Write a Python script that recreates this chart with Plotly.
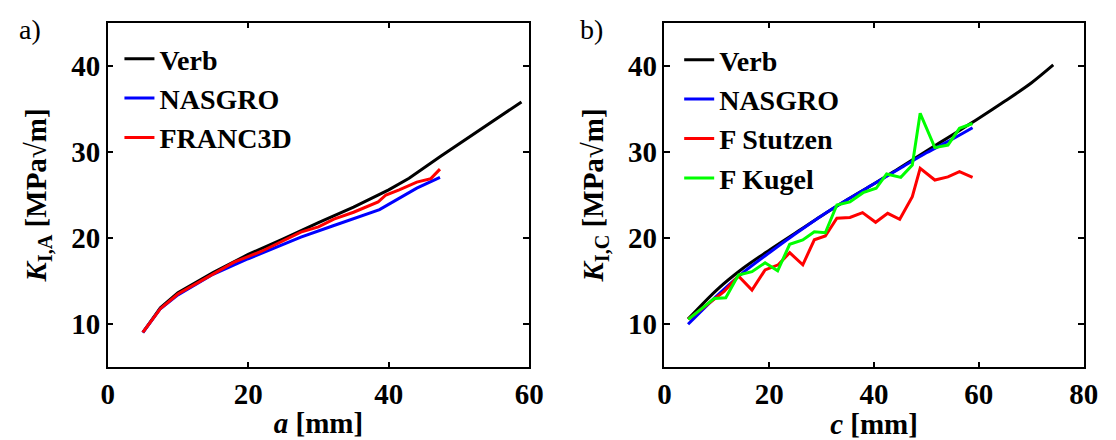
import plotly.graph_objects as go

# ---- panel a) ----
a_verb_x = [5.0, 7.5, 10.0, 15.0, 20.0, 25.0, 30.0, 35.0, 40.0, 42.9, 47.4, 58.9]
a_verb_y = [9.04, 11.9, 13.66, 16.0, 18.1, 19.9, 21.8, 23.6, 25.6, 26.94, 29.5, 35.8]
a_nas_x = [5.0, 7.5, 10.0, 15.0, 20.0, 25.0, 27.5, 32.0, 38.7, 44.0, 47.3]
a_nas_y = [9.04, 11.8, 13.4, 15.8, 17.6, 19.3, 20.1, 21.4, 23.3, 25.8, 27.05]
a_fr_x = [5.0, 7.5, 10.0, 15.0, 18.0, 22.0, 25.0, 27.5, 30.0, 32.2, 35.0, 36.8, 38.5, 39.6, 41.5, 44.0, 46.0, 47.3]
a_fr_y = [9.06, 11.8, 13.5, 15.8, 17.2, 18.5, 19.7, 20.7, 21.3, 22.2, 23.0, 23.6, 24.2, 25.0, 25.6, 26.5, 26.9, 28.0]

# ---- panel b) ----
b_verb_x = [4.5, 10, 15, 20, 25, 30, 35, 40, 45, 50, 55, 60, 65, 70, 74.2]
b_verb_y = [10.6, 14.0, 16.5, 18.6, 20.6, 22.6, 24.5, 26.3, 28.2, 30.1, 32.0, 33.9, 35.9, 38.0, 40.1]
b_nas_x = [4.5, 10, 15, 20, 25, 30, 35, 40, 45, 50, 55, 58.8]
b_nas_y = [10.0, 13.3, 16.0, 18.3, 20.5, 22.6, 24.5, 26.3, 28.1, 29.9, 31.5, 32.8]
b_stu_x = [4.55, 9.2, 11.4, 14.1, 16.7, 19.2, 21.7, 23.9, 26.4, 28.6, 30.7, 32.9, 35.4, 37.8, 40.3, 42.6, 44.9, 47.3, 48.8, 51.6, 54.1, 56.3, 58.8]
b_stu_y = [10.57, 12.8, 13.8, 15.6, 13.97, 16.3, 16.9, 18.3, 16.9, 19.8, 20.24, 22.3, 22.4, 22.95, 21.83, 22.87, 22.18, 24.8, 28.1, 26.74, 27.1, 27.7, 27.05]
b_kug_x = [4.55, 9.5, 11.7, 14.1, 16.7, 19.2, 21.6, 23.9, 26.4, 28.6, 30.7, 32.9, 35.4, 37.9, 40.4, 42.4, 45.1, 47.3, 48.8, 51.6, 54.1, 56.3, 58.8]
b_kug_y = [10.57, 13.0, 13.08, 15.7, 16.1, 17.14, 16.2, 19.28, 19.78, 20.74, 20.62, 23.84, 24.2, 25.27, 25.78, 27.44, 27.05, 28.48, 34.48, 30.5, 30.8, 32.74, 33.3]

x_ticks_a = [0, 20, 40, 60]
x_ticks_b = [0, 20, 40, 60, 80]
y_ticks = [10, 20, 30, 40]

FONT = "Liberation Serif"
LW = 3


def fnt(size, weight="bold"):
    return dict(family=FONT, size=size, color="black", weight=weight)


fig = go.Figure()
fig.add_trace(go.Scatter(x=a_verb_x, y=a_verb_y, mode="lines", name="Verb",
                         line=dict(color="#000000", width=LW), xaxis="x", yaxis="y", legend="legend"))
fig.add_trace(go.Scatter(x=a_nas_x, y=a_nas_y, mode="lines", name="NASGRO",
                         line=dict(color="#0000FF", width=LW), xaxis="x", yaxis="y", legend="legend"))
fig.add_trace(go.Scatter(x=a_fr_x, y=a_fr_y, mode="lines", name="FRANC3D",
                         line=dict(color="#FF0000", width=LW), xaxis="x", yaxis="y", legend="legend"))

fig.add_trace(go.Scatter(x=b_verb_x, y=b_verb_y, mode="lines", name="Verb",
                         line=dict(color="#000000", width=LW, shape="spline", smoothing=0.8),
                         xaxis="x2", yaxis="y2", legend="legend2"))
fig.add_trace(go.Scatter(x=b_nas_x, y=b_nas_y, mode="lines", name="NASGRO",
                         line=dict(color="#0000FF", width=LW, shape="spline", smoothing=0.8),
                         xaxis="x2", yaxis="y2", legend="legend2"))
fig.add_trace(go.Scatter(x=b_stu_x, y=b_stu_y, mode="lines", name="F Stutzen",
                         line=dict(color="#FF0000", width=LW), xaxis="x2", yaxis="y2", legend="legend2"))
fig.add_trace(go.Scatter(x=b_kug_x, y=b_kug_y, mode="lines", name="F Kugel",
                         line=dict(color="#00FF00", width=LW), xaxis="x2", yaxis="y2", legend="legend2"))

W, H = 1116, 440
axis_common = dict(showline=True, linecolor="black", linewidth=1.5, mirror="ticks",
                   ticks="inside", ticklen=6, tickwidth=1.5, tickcolor="black",
                   showgrid=False, zeroline=False, tickfont=fnt(29))

FL_A, FR_A = 102.7, 532.7
FL_B, FR_B = 670.7, 1098.3
y_dom = [1 - 367.3 / H, 1 - 22.7 / H]
fig.update_layout(
    width=W, height=H,
    margin=dict(l=0, r=0, t=0, b=0),
    paper_bgcolor="white", plot_bgcolor="white",
    font=fnt(28),
    xaxis=dict(domain=[FL_A / W, FR_A / W], range=[0, 60], tickvals=x_ticks_a, anchor="y",
               title=dict(text="<i>a</i> [mm]", font=fnt(29), standoff=4),
               **axis_common),
    yaxis=dict(domain=y_dom, range=[5, 45], tickvals=y_ticks, anchor="x",
               title=dict(text="<i>K</i><sub>I,A</sub> [MPa√m]", font=fnt(29), standoff=16),
               **axis_common),
    xaxis2=dict(domain=[FL_B / W, FR_B / W], range=[0, 80], tickvals=x_ticks_b, anchor="y2",
                title=dict(text="<i>c</i> [mm]", font=fnt(29), standoff=4),
                **axis_common),
    yaxis2=dict(domain=y_dom, range=[5, 45], tickvals=y_ticks, anchor="x2",
                title=dict(text="<i>K</i><sub>I,C</sub> [MPa√m]", font=fnt(29), standoff=16),
                **axis_common),
    legend=dict(x=(FL_A + 12) / W, y=1 - 34 / H, xanchor="left", yanchor="top",
                bgcolor="rgba(0,0,0,0)", font=fnt(28), itemwidth=30, tracegroupgap=0),
    legend2=dict(x=(FL_B + 15) / W, y=1 - 35 / H, xanchor="left", yanchor="top",
                 bgcolor="rgba(0,0,0,0)", font=fnt(28), itemwidth=30, tracegroupgap=0),
    annotations=[
        dict(text="a)", x=10 / W, y=1 - 30 / H, xref="paper", yref="paper", xanchor="left",
             yanchor="middle", showarrow=False, font=fnt(28, "normal")),
        dict(text="b)", x=582 / W, y=1 - 30 / H, xref="paper", yref="paper", xanchor="left",
             yanchor="middle", showarrow=False, font=fnt(28, "normal")),
    ],
)

fig.write_html("out.html")
